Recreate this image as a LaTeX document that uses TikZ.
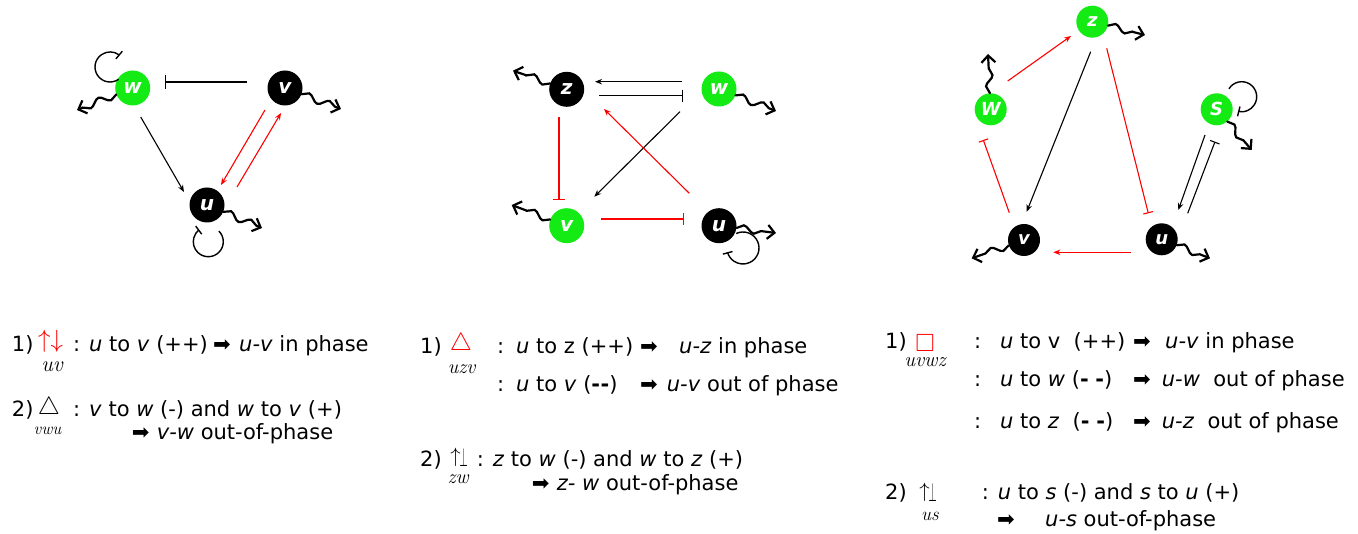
\documentclass[tikz,border=0pt]{standalone}
\usepackage{amssymb}
\usepackage{graphicx}
\usepackage{fontspec}
\newfontfamily\dv{DejaVu Sans}
\usetikzlibrary{arrows.meta,decorations.pathmorphing}
\definecolor{ngreen}{RGB}{20,235,20}
\definecolor{nred}{RGB}{255,0,0}
\newcommand{\myupbar}{$\uparrow$\kern-1pt\raisebox{-0.194em}{\scalebox{0.5}[1.28]{$\perp$}}}
\tikzset{
  ndbase/.style={circle, inner sep=0pt, minimum size=35pt, text=white, font=\dv\bfseries\itshape\fontsize{20}{20}\selectfont},
  gnode/.style={ndbase, fill=ngreen},
  bnode/.style={ndbase, fill=black},
  smallnd/.style={minimum size=32pt, font=\dv\bfseries\itshape\fontsize{18}{18}\selectfont},
  actar/.style={line width=1.1pt, -{Stealth[length=7pt,width=5.5pt]}},
  inhar/.style={line width=1.1pt, -{Bar[width=#1,line width=1.1pt]}},
  inhar/.default=12pt,
  selfinh/.style={line width=1.4pt, -{Bar[width=10pt,line width=1.4pt]}},
  degar/.style={line width=2.2pt, line cap=round, decorate,
    decoration={snake, amplitude=3.5pt, segment length=22pt, post length=6pt},
    -{Straight Barb[length=7pt,width=14pt,line width=2.2pt]}},
  txtA/.style={anchor=base west, inner sep=0pt, font=\dv\fontsize{21}{25}\selectfont},
  symA/.style={anchor=center, inner sep=0pt, font=\fontsize{24.88}{26}\selectfont},
  symB/.style={anchor=center, inner sep=0pt, font=\fontsize{20.74}{22}\selectfont},
  subsc/.style={anchor=center, inner sep=0pt, font=\rmfamily\itshape\fontsize{#1}{#1}\selectfont},
}
\begin{document}
\begin{tikzpicture}[x=1pt,y=-1pt]
\useasboundingbox (0,0) rectangle (1358,534);
% ---------------- left diagram
\node[gnode] (lw) at (132.7,88) {w};
\node[bnode] (lv) at (285,88) {v};
\node[bnode] (lu) at (207,205) {u};
\coordinate (lwE) at (77,110);
\coordinate (lvE) at (341,109);
\coordinate (luE) at (262,228);
\draw[inhar=14pt] ([shift={(-38,-6)}]lv.center) -- ([shift={(32,-6)}]lw.center);
\draw[actar] ([shift={(8,29)}]lw.center) -- ([shift={(-23,-13)}]lu.center);
\draw[actar,nred] ([shift={(-20,22)}]lv.center) -- ([shift={(14,-20)}]lu.center);
\draw[actar,nred] ([shift={(30,-18)}]lu.center) -- ([shift={(-4,25)}]lv.center);
\draw[selfinh] ([shift={(-22.7,-21)}]lw.center) ++(55:15) arc[start angle=55,end angle=310,radius=15];
\draw[selfinh] ([shift={(1.3,36.7)}]lu.center) ++(-45:15) arc[start angle=-45,end angle=233,radius=15];
\draw[degar] (lw) -- (lwE);
\draw[degar] (lv) -- (lvE);
\draw[degar] (lu) -- (luE);
% ---------------- middle diagram
\node[bnode] (mz) at (566.7,89.3) {z};
\node[gnode] (mw) at (719,89) {w};
\node[gnode] (mv) at (566.7,225.7) {v};
\node[bnode] (mu) at (719,225.7) {u};
\coordinate (mzE) at (513,70.7);
\coordinate (mwE) at (776,111);
\coordinate (mvE) at (511.7,205);
\coordinate (muE) at (776,233);
\draw[actar] ([shift={(-37.3,-7.3)}]mw.center) -- ([shift={(28.3,-7.6)}]mz.center);
\draw[inhar] ([shift={(32.3,6.4)}]mz.center) -- ([shift={(-36,6.7)}]mw.center);
\draw[actar] ([shift={(-39,22.7)}]mw.center) -- ([shift={(27.6,-29)}]mv.center);
\draw[actar,nred] ([shift={(-29.7,-32.4)}]mu.center) -- ([shift={(37.3,19.7)}]mz.center);
\draw[inhar,nred] ([shift={(-7.7,27.7)}]mz.center) -- ([shift={(-7.7,-25.7)}]mv.center);
\draw[inhar,nred] ([shift={(34.3,-6.7)}]mv.center) -- ([shift={(-34.7,-6.7)}]mu.center);
\draw[selfinh] ([shift={(24,22.3)}]mu.center) ++(-115:16) arc[start angle=-115,end angle=165,radius=16];
\draw[degar] (mz) -- (mzE);
\draw[degar] (mw) -- (mwE);
\draw[degar] (mv) -- (mvE);
\draw[degar] (mu) -- (muE);
% ---------------- right diagram
\node[gnode,smallnd] (rz) at (1092.3,21.7) {z};
\node[gnode,smallnd] (rW) at (990.7,109.3) {W};
\node[gnode,smallnd] (rS) at (1216.7,109.3) {S};
\node[bnode,smallnd] (rv) at (1024,240) {v};
\node[bnode,smallnd] (ru) at (1161.7,239.3) {u};
\coordinate (rzE) at (1145,35);
\coordinate (rWE) at (988,54);
\coordinate (rSE) at (1251.7,150);
\coordinate (rvE) at (971.7,258.3);
\coordinate (ruE) at (1210,258.3);
\draw[actar,nred] ([shift={(17,-28.3)}]rW.center) -- ([shift={(-21.3,14.3)}]rz.center);
\draw[actar] ([shift={(-1.6,30)}]rz.center) -- ([shift={(2.7,-28.3)}]rv.center);
\draw[inhar=10pt,nred] ([shift={(14.4,26.6)}]rz.center) -- ([shift={(-13.4,-26)}]ru.center);
\draw[inhar=10pt,nred] ([shift={(-14.7,-27.3)}]rv.center) -- ([shift={(-7.4,30.7)}]rW.center);
\draw[actar,nred] ([shift={(-31,13)}]ru.center) -- ([shift={(29.3,12.3)}]rv.center);
\draw[actar] ([shift={(-11.7,25.7)}]rS.center) -- ([shift={(16.6,-29.3)}]ru.center);
\draw[inhar=10pt] ([shift={(26,-26)}]ru.center) -- ([shift={(-1.7,32.4)}]rS.center);
\draw[selfinh] ([shift={(25,-12.6)}]rS.center) ++(212:15) arc[start angle=212,end angle=464,radius=15];
\draw[degar] (rz) -- (rzE);
\draw[degar] (rW) -- (rWE);
\draw[degar] (rS) -- (rSE);
\draw[degar] (rv) -- (rvE);
\draw[degar] (ru) -- (ruE);
% ---------------- left text
\node[txtA] (t1) at (11.7,352) {1)};
\node[symA,text=nred] (t2) at (50.5,341.5) {$\uparrow\downarrow$};
\node[subsc=22] (t3) at (52,367) {uv};
\node[txtA] (t4) at (73,352) {: \textit{u} to \textit{v} (++)};
\node[txtA] (t5) at (213,352) {➡};
\node[txtA] (t6) at (239,352) {\textit{u-v} in phase};
\node[txtA] (t7) at (11.7,416.7) {2)};
\node[symA] (t8) at (49,408) {$\triangle$};
\node[subsc=17] (t9) at (47.5,431) {vwu};
\node[txtA] (t10) at (73,416.7) {: \textit{v} to \textit{w} (-) and \textit{w} to \textit{v} (+)};
\node[txtA] (t11) at (131.7,440) {➡};
\node[txtA] (t12) at (156.7,440) {\textit{v-w} out-of-phase};
% ---------------- middle text
\node[txtA] (m1) at (420,353.3) {1)};
\node[symA,text=nred] (m2) at (461,344) {$\triangle$};
\node[subsc=20] (m3) at (461.5,369) {uzv};
\node[txtA] (m4) at (497,353.3) {:};
\node[txtA] (m5) at (516,353.3) {\textit{u} to z (++)};
\node[txtA] (m6) at (640,353.3) {➡};
\node[txtA] (m7) at (679,353.3) {\textit{u-z} in phase};
\node[txtA] (m8) at (497,391.7) {:};
\node[txtA] (m9) at (516,391.7) {\textit{u} to \textit{v} ({\bfseries -\kern0.5pt-})};
\node[txtA] (m10) at (640,391.7) {➡};
\node[txtA] (m11) at (666.7,391.7) {\textit{u-v} out of phase};
\node[txtA] (m12) at (420,466.7) {2)};
\node[symB] (m13) at (459,457.5) {\myupbar};
\node[subsc=20] (m14) at (458,479) {zw};
\node[txtA] (m15) at (476.7,466.7) {: \textit{z} to \textit{w} (-) and \textit{w} to \textit{z} (+)};
\node[txtA] (m16) at (531.7,490) {➡};
\node[txtA] (m17) at (556.7,490) {\textit{z- w} out-of-phase};
% ---------------- right text
\node[txtA] (r1) at (885,348.3) {1)};
\node[symA,text=nred] (r2) at (925,343.5) {$\square$};
\node[subsc=20.5] (r3) at (925,362) {uvwz};
\node[txtA] (r4) at (974,348.3) {:};
\node[txtA] (r5) at (1000,348.3) {\textit{u} to v\ \ (++)};
\node[txtA] (r6) at (1133,348.3) {➡};
\node[txtA] (r7) at (1165,348.3) {\textit{u-v} in phase};
\node[txtA] (r8) at (974,386.7) {:};
\node[txtA] (r9) at (1000,386.7) {\textit{u} to \textit{w} ({\bfseries -}\ {\bfseries -})};
\node[txtA] (r10) at (1133,386.7) {➡};
\node[txtA] (r11) at (1161.7,386.7) {\textit{u-w}\ \ out of phase};
\node[txtA] (r12) at (974,428.3) {:};
\node[txtA] (r13) at (1000,428.3) {\textit{u} to \textit{z}\ \ ({\bfseries -}\ {\bfseries -})};
\node[txtA] (r14) at (1133,428.3) {➡};
\node[txtA] (r15) at (1161.7,428.3) {\textit{u-z}\ \ out of phase};
\node[txtA] (r16) at (885,500) {2)};
\node[symB] (r17) at (928,492.5) {\myupbar};
\node[subsc=19] (r18) at (930,516) {us};
\node[txtA] (r19) at (981.7,500) {: \textit{u} to \textit{s} (-) and \textit{s} to \textit{u} (+)};
\node[txtA] (r20) at (997,526.7) {➡};
\node[txtA] (r21) at (1045,526.7) {\textit{u-s} out-of-phase};
\end{tikzpicture}
\end{document}
